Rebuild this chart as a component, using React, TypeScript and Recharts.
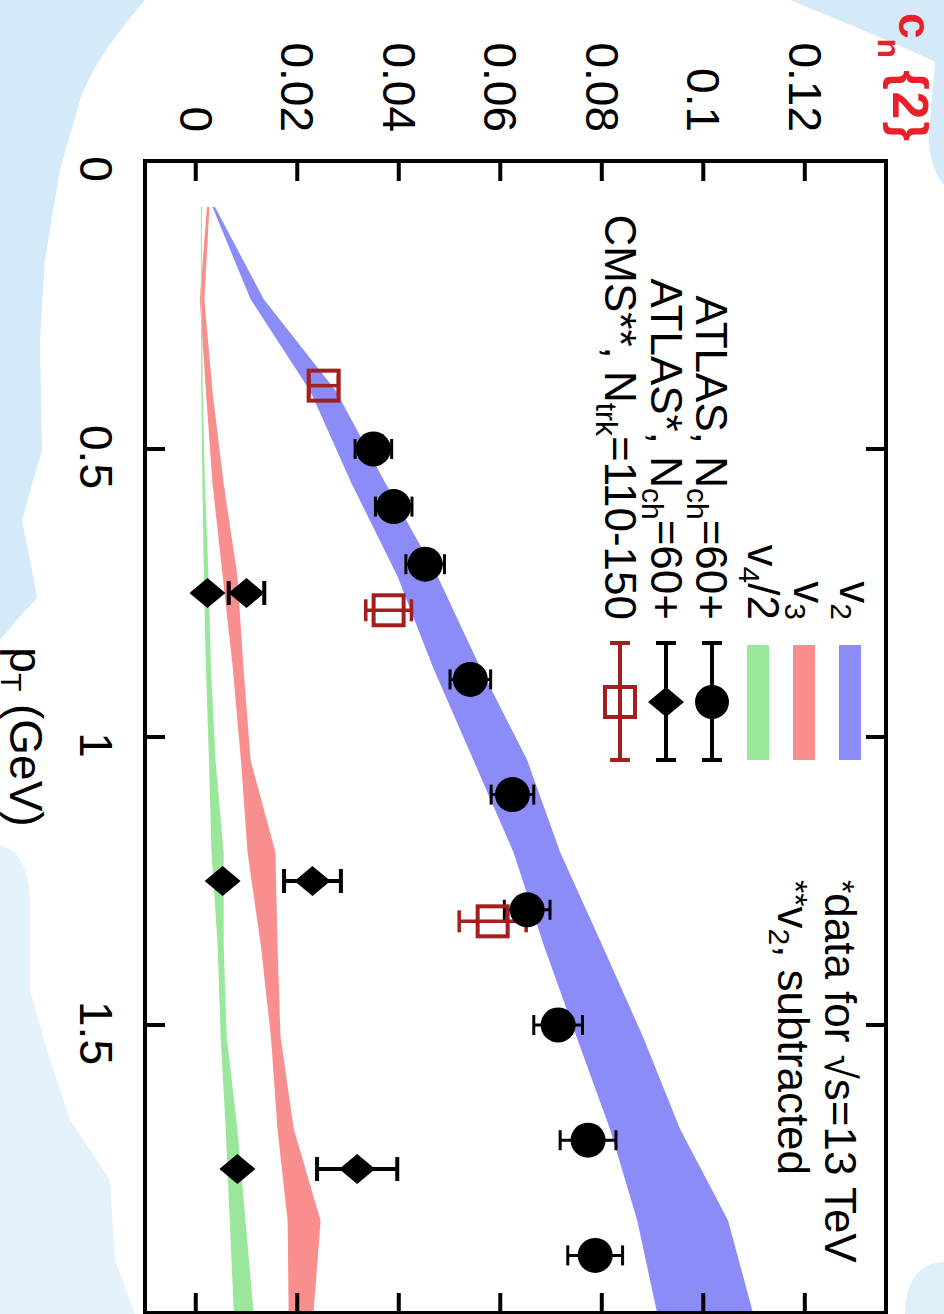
import React from 'react';
import { ComposedChart, Area, Scatter, ErrorBar, XAxis, YAxis } from 'recharts';

// model bands, computed on a pT grid (GeV)
const ptGrid = [0.08, 0.24, 0.4, 0.56, 0.72, 0.88, 1.04, 1.2, 1.36, 1.52, 1.68, 1.84, 2.0];
const v2Low = [0.0033, 0.0108, 0.0226, 0.0307, 0.0397, 0.0468, 0.0547, 0.0626, 0.0685, 0.075, 0.0816, 0.087, 0.0909];
const v2High = [0.0038, 0.0134, 0.0277, 0.0374, 0.0476, 0.0561, 0.0653, 0.0718, 0.08, 0.0881, 0.0954, 0.1049, 0.1098];
const v3Low = [0.0022, 0.0008, 0.002, 0.0033, 0.0053, 0.0073, 0.0089, 0.0102, 0.0128, 0.0148, 0.0161, 0.0181, 0.0183];
const v3High = [0.0027, 0.0017, 0.0033, 0.0055, 0.0082, 0.0094, 0.0108, 0.0157, 0.0161, 0.0167, 0.0193, 0.0246, 0.0232];
const v4Low = [0.001, 0.001, 0.0011, 0.0013, 0.0016, 0.002, 0.0026, 0.0031, 0.0043, 0.0049, 0.0059, 0.0067, 0.0075];
const v4High = [0.0012, 0.0012, 0.0014, 0.0018, 0.0025, 0.003, 0.0039, 0.0055, 0.0055, 0.0061, 0.0082, 0.0098, 0.0114];

// ATLAS, Nch=60+ (v2)
const atlasPt = [0.5, 0.6, 0.7, 0.9, 1.1, 1.3, 1.5, 1.7, 1.9];
const atlasV2 = [0.035, 0.039, 0.0452, 0.0541, 0.0624, 0.0653, 0.0714, 0.0773, 0.0787];
const atlasErr = [0.0036, 0.0036, 0.0038, 0.004, 0.0042, 0.0045, 0.0048, 0.0055, 0.0054];

// ATLAS*, 13 TeV (v3 and v4)
const starPt = [0.75, 1.25, 1.75];
const starV3 = [0.01, 0.023, 0.0318];
const starV3Err = [0.0035, 0.0056, 0.0079];
const starV4 = [0.0023, 0.0053, 0.0082];
const starV4Err = [0, 0, 0];

// CMS**, Ntrk=110-150 (v2 subtracted)
const cmsPt = [0.39, 0.78, 1.32];
const cmsV2 = [0.0252, 0.038, 0.0585];
const cmsErr = [0.0029, 0.0045, 0.0066];

const ptTicks = [0, 0.5, 1, 1.5, 2];
const cnTicks = [0, 0.02, 0.04, 0.06, 0.08, 0.1, 0.12];

const bandData = ptGrid.map((pt, i) => ({
  pt,
  v2: [v2Low[i], v2High[i]],
  v3: [v3Low[i], v3High[i]],
  v4: [v4Low[i], v4High[i]],
}));
const points = (xs: number[], ys: number[], es: number[]) =>
  xs.map((pt, i) => ({ pt, v: ys[i], err: es[i] }));

const atlasData = points(atlasPt, atlasV2, atlasErr);
const starV3Data = points(starPt, starV3, starV3Err);
const starV4Data = points(starPt, starV4, starV4Err);
const cmsData = points(cmsPt, cmsV2, cmsErr);

const FONT = '"Liberation Sans", Arial, sans-serif';
const BLUE = '#8c8cf8';
const RED = '#f98e8e';
const GREEN = '#9ae69a';
const CMS = '#a31f1f';
const TICK = 20;
const line = { stroke: '#000', strokeWidth: 4 };

const circleShape = (p: any) => <circle cx={p.cx} cy={p.cy} r={17.5} fill="#000" />;
const diamondShape = (p: any) => (
  <polygon
    points={`${p.cx},${p.cy - 18} ${p.cx + 15},${p.cy} ${p.cx},${p.cy + 18} ${p.cx - 15},${p.cy}`}
    fill="#000"
  />
);
const squareShape = (p: any) => (
  <rect x={p.cx - 15} y={p.cy - 15} width={30} height={30} fill="none" stroke={CMS} strokeWidth={4} />
);

const BottomTick = (p: any) => (
  <g>
    <line x1={p.x} y1={p.y} x2={p.x} y2={p.y - TICK} {...line} />
    {p.payload.value < 2 && (
      <text x={p.x + 8} y={p.y + 65} textAnchor="middle" fontSize={46} fontFamily={FONT} fill="#000">
        {p.payload.value}
      </text>
    )}
  </g>
);
const TopTick = (p: any) => <line x1={p.x} y1={p.y} x2={p.x} y2={p.y + TICK} {...line} />;
const LeftTick = (p: any) => (
  <g>
    <line x1={p.x} y1={p.y} x2={p.x + TICK} y2={p.y} {...line} />
    <text x={p.x - 29} y={p.y} dy="0.35em" textAnchor="end" fontSize={46} fontFamily={FONT} fill="#000">
      {String(p.payload.value)}
    </text>
  </g>
);
const RightTick = (p: any) => <line x1={p.x} y1={p.y} x2={p.x - TICK} y2={p.y} {...line} />;

const ErrSymbol = ({ y, color, children }: any) => (
  <g>
    <line x1={643} y1={y} x2={760} y2={y} stroke={color} strokeWidth={4} />
    <line x1={643} y1={y - 10} x2={643} y2={y + 10} stroke={color} strokeWidth={4} />
    <line x1={760} y1={y - 10} x2={760} y2={y + 10} stroke={color} strokeWidth={4} />
    {children}
  </g>
);

const Sub = ({ children }: any) => (
  <>
    <tspan dy={9} fontSize={30}>{children}</tspan>
    <tspan dy={-9}>{'\u200b'}</tspan>
  </>
);

const Overlay = () => (
  <g fontFamily={FONT} fill="#000">
    {/* legend */}
    <rect x={645} y={83} width={115} height={22} fill={BLUE} />
    <rect x={645} y={129} width={115} height={22} fill={RED} />
    <rect x={645} y={175} width={115} height={22} fill={GREEN} />
    <ErrSymbol y={232} color="#000">
      <circle cx={702} cy={232} r={17} fill="#000" />
    </ErrSymbol>
    <ErrSymbol y={278} color="#000">
      <polygon points="702,260 717,278 702,296 687,278" fill="#000" />
    </ErrSymbol>
    <ErrSymbol y={324} color={CMS}>
      <rect x={687} y={309} width={30} height={30} fill="#fff" stroke={CMS} strokeWidth={4} />
      <line x1={687} y1={324} x2={717} y2={324} stroke={CMS} strokeWidth={4} />
    </ErrSymbol>
    <g fontSize={44} textAnchor="end">
      <text x={620} y={104}>v<Sub>2</Sub></text>
      <text x={620} y={150}>v<Sub>3</Sub></text>
      <text x={620} y={196}>v<Sub>4</Sub>/2</text>
      <text x={620} y={248}>ATLAS, N<Sub>ch</Sub>=60+</text>
      <text x={620} y={293}>ATLAS*, N<Sub>ch</Sub>=60+</text>
      <text x={620} y={339}>CMS**, N<Sub>trk</Sub>=110-150</text>
    </g>
    {/* notes */}
    <g fontSize={44}>
      <text x={880} y={119}>
        <tspan fontSize={34} dy={-6}>*</tspan>
        <tspan dy={6}>data for √s=13 TeV</tspan>
      </text>
      <text x={880} y={166}>
        <tspan fontSize={34} dy={-6}>**</tspan>
        <tspan dy={6}>v</tspan>
        <Sub>2</Sub>, subtracted
      </text>
    </g>
    {/* axis titles */}
    <text x={737} y={934} textAnchor="middle" fontSize={46}>
      p<Sub>T</Sub> (GeV)
    </text>
    <text x={13} y={45} fill="#e8202a" fontWeight="bold" fontSize={46}>
      c
      <tspan dy={21} fontSize={32}>n</tspan>
      <tspan dy={-15} dx={12} fontSize={50} letterSpacing={2}>{'{2}'}</tspan>
    </text>
  </g>
);

const Backdrop = () => (
  <svg width={944} height={1314} style={{ position: 'absolute', left: 0, top: 0 }}>
    <path
      d="M0,0 L145,0 C120,30 95,60 80,100 L60,170 L45,260 L40,340 L42,450 L22,520 L33,575 L37,598 L15,622 L0,640 Z"
      fill="#d4eaf8"
    />
    <path
      d="M0,845 C20,850 30,870 30,900 L30,990 L50,1060 L70,1120 L110,1180 L115,1260 L135,1314 L0,1314 Z"
      fill="#e4f2fb"
    />
    <path d="M790,0 L944,0 L944,185 C935,175 925,150 930,120 L935,62 C900,45 850,25 790,0 Z" fill="#d4eaf8" />
    <path d="M944,1262 C920,1262 905,1280 905,1314 L944,1314 Z" fill="#deeffa" />
  </svg>
);

const axisProps = {
  type: 'number' as const,
  interval: 0 as const,
  allowDataOverflow: true,
  tickSize: 0,
  tickMargin: 0,
  tickLine: false,
  axisLine: { ...line, strokeLinecap: 'square' as const },
};

const App: React.FC = () => (
  <div style={{ position: 'absolute', left: 0, top: 0, width: 944, height: 1314, overflow: 'hidden', background: '#fff' }}>
    <Backdrop />
    <div
      style={{
        position: 'absolute',
        left: 0,
        top: 0,
        width: 1314,
        height: 944,
        transformOrigin: '0 0',
        transform: 'translate(944px, 0) rotate(90deg)',
      }}
    >
      <ComposedChart width={1314} height={944} data={bandData} margin={{ top: 57, right: 0, bottom: 144, left: 160 }}>
        <XAxis {...axisProps} xAxisId="b" dataKey="pt" domain={[0, 2]} ticks={ptTicks} height={1} tick={BottomTick} />
        <XAxis {...axisProps} xAxisId="t" orientation="top" dataKey="pt" domain={[0, 2]} ticks={ptTicks} height={1} tick={TopTick} />
        <YAxis {...axisProps} yAxisId="l" domain={[-0.01, 0.136]} ticks={cnTicks} width={1} tick={LeftTick} />
        <YAxis {...axisProps} yAxisId="r" orientation="right" domain={[-0.01, 0.136]} ticks={cnTicks} width={1} tick={RightTick} />
        <Area xAxisId="b" yAxisId="l" type="linear" dataKey="v2" stroke="none" fill={BLUE} fillOpacity={1} dot={false} activeDot={false} isAnimationActive={false} />
        <Area xAxisId="b" yAxisId="l" type="linear" dataKey="v3" stroke="none" fill={RED} fillOpacity={1} dot={false} activeDot={false} isAnimationActive={false} />
        <Area xAxisId="b" yAxisId="l" type="linear" dataKey="v4" stroke="none" fill={GREEN} fillOpacity={1} dot={false} activeDot={false} isAnimationActive={false} />
        <Scatter xAxisId="b" yAxisId="l" data={cmsData} dataKey="v" shape={squareShape} isAnimationActive={false}>
          <ErrorBar dataKey="err" direction="y" width={11} strokeWidth={3.5} stroke={CMS} />
        </Scatter>
        <Scatter xAxisId="b" yAxisId="l" data={atlasData} dataKey="v" shape={circleShape} isAnimationActive={false}>
          <ErrorBar dataKey="err" direction="y" width={10} strokeWidth={3} stroke="#000" />
        </Scatter>
        <Scatter xAxisId="b" yAxisId="l" data={starV3Data} dataKey="v" shape={diamondShape} isAnimationActive={false}>
          <ErrorBar dataKey="err" direction="y" width={12} strokeWidth={4} stroke="#000" />
        </Scatter>
        <Scatter xAxisId="b" yAxisId="l" data={starV4Data} dataKey="v" shape={diamondShape} isAnimationActive={false} />
        <Overlay />
      </ComposedChart>
    </div>
  </div>
);

export default App;
